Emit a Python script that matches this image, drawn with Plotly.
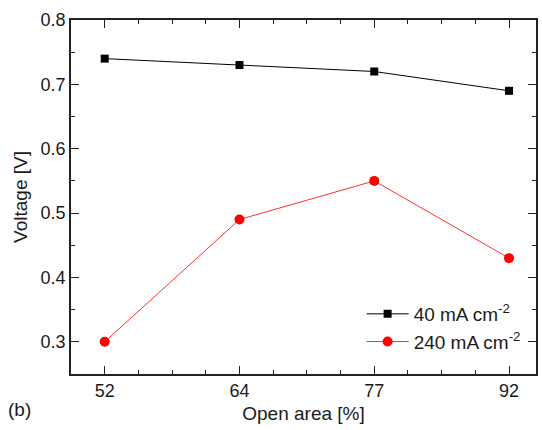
import plotly.graph_objects as go

categories = ["52", "64", "77", "92"]
x_idx = [0, 1, 2, 3]
v_40 = [0.74, 0.73, 0.72, 0.69]
v_240 = [0.30, 0.49, 0.55, 0.43]
y_ticks = [0.3, 0.4, 0.5, 0.6, 0.7, 0.8]

fig = go.Figure()
fig.add_trace(go.Scatter(x=x_idx, y=v_40, mode="lines+markers", name="40 mA cm<sup>-2</sup>",
                         line=dict(color="black", width=1),
                         marker=dict(symbol="square", size=8, color="black")))
fig.add_trace(go.Scatter(x=x_idx, y=v_240, mode="lines+markers", name="240 mA cm<sup>-2</sup>",
                         line=dict(color="#ff3030", width=1),
                         marker=dict(symbol="circle", size=10, color="#ff0000")))

major_x = [i * 0.5 for i in range(0, 7)]
major_text = [categories[int(v)] if v == int(v) else "" for v in major_x]
minor_x = [i * 0.25 - 0.25 for i in range(0, 15)]

fig.update_layout(
    width=542, height=430,
    margin=dict(l=71, r=4, t=20, b=56),
    paper_bgcolor="white", plot_bgcolor="white",
    font=dict(family="Liberation Sans, Arial, sans-serif", size=18, color="#1a1a1a"),
    showlegend=True,
    legend=dict(x=0.625, y=0.13, xanchor="left", yanchor="middle", bgcolor="rgba(0,0,0,0)",
                font=dict(size=19), tracegroupgap=0, itemwidth=42),
    xaxis=dict(range=[-0.25, 3.2], tickmode="array", tickvals=major_x, ticktext=major_text,
               ticks="inside", ticklen=8, tickwidth=1.3, tickcolor="#222",
               minor=dict(tickmode="array", tickvals=minor_x, ticks="inside", ticklen=4, tickwidth=1.3, tickcolor="#222"),
               showline=True, linecolor="#222", linewidth=1.5, mirror="ticks",
               showgrid=False, zeroline=False,
               title=dict(text="Open area [%]", font=dict(size=19), standoff=6)),
    yaxis=dict(range=[0.25, 0.8], tickmode="array", tickvals=y_ticks,
               ticktext=[f"{v:.1f}" for v in y_ticks],
               ticks="inside", ticklen=8, tickwidth=1.3, tickcolor="#222",
               minor=dict(dtick=0.05, tick0=0.25, ticks="inside", ticklen=4, tickwidth=1.3, tickcolor="#222"),
               showline=True, linecolor="#222", linewidth=1.5, mirror="ticks",
               showgrid=False, zeroline=False,
               title=dict(text="Voltage [V]", font=dict(size=19), standoff=8)),
)
fig.add_annotation(text="(b)", xref="paper", yref="paper", x=-0.14, y=-0.10,
                   xanchor="left", yanchor="middle", showarrow=False, font=dict(size=19))

fig.write_html("out.html")
